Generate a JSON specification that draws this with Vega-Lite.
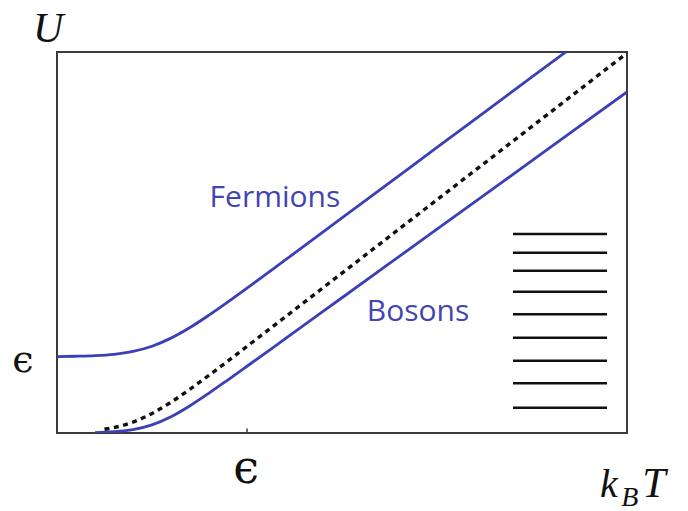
{
  "$schema": "https://vega.github.io/schema/vega-lite/v6.json",
  "width": 570,
  "height": 381,
  "autosize": {"type": "none"},
  "padding": {"left": 57, "top": 52, "right": 61, "bottom": 78},
  "background": "white",
  "config": {
    "view": {"stroke": "#3f3a3a", "strokeWidth": 2},
    "axis": {"domain": false, "grid": false, "ticks": false, "labels": false, "title": null}
  },
  "datasets": {
    "curves": [
      {"series": "Fermions", "x": 0.0, "y": 1.003},
      {"series": "Fermions", "x": 0.1, "y": 1.007},
      {"series": "Fermions", "x": 0.2, "y": 1.015},
      {"series": "Fermions", "x": 0.3, "y": 1.033},
      {"series": "Fermions", "x": 0.4, "y": 1.071},
      {"series": "Fermions", "x": 0.5, "y": 1.139},
      {"series": "Fermions", "x": 0.6, "y": 1.245},
      {"series": "Fermions", "x": 0.7, "y": 1.384},
      {"series": "Fermions", "x": 0.8, "y": 1.547},
      {"series": "Fermions", "x": 0.9, "y": 1.721},
      {"series": "Fermions", "x": 1.0, "y": 1.901},
      {"series": "Fermions", "x": 1.2, "y": 2.268},
      {"series": "Fermions", "x": 1.5, "y": 2.822},
      {"series": "Fermions", "x": 2.0, "y": 3.747},
      {"series": "Fermions", "x": 2.5, "y": 4.672},
      {"series": "Fermions", "x": 2.68, "y": 5.005},
      {"series": "Bosons", "x": 0.2, "y": 0.006},
      {"series": "Bosons", "x": 0.3, "y": 0.017},
      {"series": "Bosons", "x": 0.4, "y": 0.044},
      {"series": "Bosons", "x": 0.5, "y": 0.106},
      {"series": "Bosons", "x": 0.6, "y": 0.212},
      {"series": "Bosons", "x": 0.7, "y": 0.357},
      {"series": "Bosons", "x": 0.8, "y": 0.523},
      {"series": "Bosons", "x": 0.9, "y": 0.698},
      {"series": "Bosons", "x": 1.0, "y": 0.876},
      {"series": "Bosons", "x": 1.2, "y": 1.235},
      {"series": "Bosons", "x": 1.5, "y": 1.775},
      {"series": "Bosons", "x": 2.0, "y": 2.675},
      {"series": "Bosons", "x": 2.5, "y": 3.575},
      {"series": "Bosons", "x": 3.0, "y": 4.475},
      {"series": "Classical", "x": 0.25, "y": 0.049},
      {"series": "Classical", "x": 0.3, "y": 0.071},
      {"series": "Classical", "x": 0.4, "y": 0.143},
      {"series": "Classical", "x": 0.5, "y": 0.256},
      {"series": "Classical", "x": 0.6, "y": 0.404},
      {"series": "Classical", "x": 0.7, "y": 0.575},
      {"series": "Classical", "x": 0.8, "y": 0.758},
      {"series": "Classical", "x": 0.9, "y": 0.946},
      {"series": "Classical", "x": 1.0, "y": 1.137},
      {"series": "Classical", "x": 1.2, "y": 1.521},
      {"series": "Classical", "x": 1.5, "y": 2.098},
      {"series": "Classical", "x": 2.0, "y": 3.061},
      {"series": "Classical", "x": 2.5, "y": 4.023},
      {"series": "Classical", "x": 3.0, "y": 4.986}
    ],
    "levels": [
      {"x": 2.4, "x2": 2.895, "y": 2.612},
      {"x": 2.4, "x2": 2.895, "y": 2.366},
      {"x": 2.4, "x2": 2.895, "y": 2.13},
      {"x": 2.4, "x2": 2.895, "y": 1.854},
      {"x": 2.4, "x2": 2.895, "y": 1.558},
      {"x": 2.4, "x2": 2.895, "y": 1.25},
      {"x": 2.4, "x2": 2.895, "y": 0.949},
      {"x": 2.4, "x2": 2.895, "y": 0.652},
      {"x": 2.4, "x2": 2.895, "y": 0.332}
    ]
  },
  "encoding": {
    "x": {"field": "x", "type": "quantitative", "scale": {"domain": [0, 3], "nice": false, "zero": false}, "axis": null},
    "y": {"field": "y", "type": "quantitative", "scale": {"domain": [0, 5], "nice": false, "zero": false}, "axis": null}
  },
  "layer": [
    {
      "data": {"name": "curves"},
      "transform": [{"filter": "datum.series !== 'Classical'"}],
      "mark": {"type": "line", "interpolate": "monotone", "color": "#3b3fb8", "strokeWidth": 2.8, "clip": true},
      "encoding": {"detail": {"field": "series"}}
    },
    {
      "data": {"name": "curves"},
      "transform": [{"filter": "datum.series === 'Classical'"}],
      "mark": {"type": "line", "interpolate": "monotone", "color": "#111111", "strokeWidth": 3.4, "strokeDash": [5, 4.5], "clip": true},
      "encoding": {"detail": {"field": "series"}}
    },
    {
      "data": {"name": "levels"},
      "mark": {"type": "rule", "color": "#111111", "strokeWidth": 2.4},
      "encoding": {"x2": {"field": "x2"}}
    },
    {
      "data": {"values": [{"x": 1.0, "y": 0.0, "y2": 0.06}]},
      "mark": {"type": "rule", "color": "#3f3a3a", "strokeWidth": 1.5},
      "encoding": {"y2": {"field": "y2"}}
    },
    {
      "data": {"values": [{"label": "Fermions", "x": 1.147, "y": 3.084}, {"label": "Bosons", "x": 1.9, "y": 1.585}]},
      "mark": {"type": "text", "font": "Open Sans", "fontSize": 30, "color": "#4244b2", "align": "center", "baseline": "middle"},
      "encoding": {"text": {"field": "label"}}
    },
    {
      "data": {"values": [{"label": "U", "x": -0.126, "y": 5.131}]},
      "mark": {"type": "text", "font": "Liberation Serif", "fontStyle": "italic", "fontSize": 42, "color": "#111111", "align": "left", "baseline": "alphabetic", "clip": false},
      "encoding": {"text": {"field": "label"}}
    },
    {
      "data": {"values": [{"label": "ϵ", "x": -0.179, "y": 0.8}]},
      "mark": {"type": "text", "font": "DejaVu Serif", "fontSize": 38, "color": "#111111", "align": "center", "baseline": "alphabetic"},
      "encoding": {"text": {"field": "label"}}
    },
    {
      "data": {"values": [{"label": "ϵ", "x": 0.995, "y": -0.656}]},
      "mark": {"type": "text", "font": "DejaVu Serif", "fontSize": 46, "color": "#111111", "align": "center", "baseline": "alphabetic"},
      "encoding": {"text": {"field": "label"}}
    },
    {
      "data": {"values": [{"label": "k", "x": 2.858, "y": -0.84}]},
      "mark": {"type": "text", "font": "Liberation Serif", "fontStyle": "italic", "fontSize": 40, "color": "#111111", "align": "left", "baseline": "alphabetic"},
      "encoding": {"text": {"field": "label"}}
    },
    {
      "data": {"values": [{"label": "T", "x": 3.08, "y": -0.84}]},
      "mark": {"type": "text", "font": "Liberation Serif", "fontStyle": "italic", "fontSize": 42, "color": "#111111", "align": "left", "baseline": "alphabetic"},
      "encoding": {"text": {"field": "label"}}
    },
    {
      "data": {"values": [{"label": "B", "x": 2.97, "y": -0.958}]},
      "mark": {"type": "text", "font": "Liberation Serif", "fontStyle": "italic", "fontSize": 28, "color": "#111111", "align": "left", "baseline": "alphabetic"},
      "encoding": {"text": {"field": "label"}}
    }
  ]
}
